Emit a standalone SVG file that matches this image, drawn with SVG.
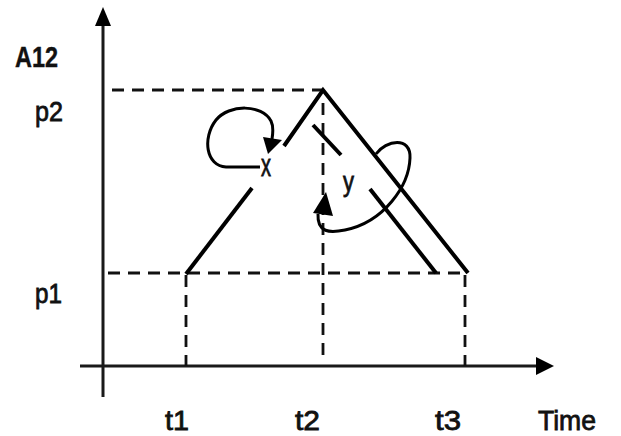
<svg xmlns="http://www.w3.org/2000/svg" width="621" height="436" viewBox="0 0 621 436">
<style>
.axis{stroke:#1a1a1a;stroke-width:3;fill:none}
.dash{stroke:#111;stroke-width:2.8;stroke-dasharray:12 8;fill:none}
.line{stroke:#000;stroke-width:4;fill:none;stroke-linecap:butt}
.loop{stroke:#000;stroke-width:3;fill:none}
.head{fill:#000}
text{font-family:"Liberation Sans",Arial,sans-serif;fill:#111}
.lbl{font-size:28px;stroke:#111;stroke-width:0.8}
.bold{font-weight:bold;stroke-width:0.4}
</style>
<rect width="621" height="436" fill="#fff"/>
<g id="axes">
<line class="axis" x1="103" y1="24" x2="103" y2="397"/>
<polygon class="head" points="103,7 95,26 111,26"/>
<line class="axis" x1="80" y1="366" x2="538" y2="366"/>
<polygon class="head" points="554,366 536,357 536,375"/>
</g>
<g id="guides">
<line class="dash" x1="112" y1="90" x2="322" y2="90"/>
<line class="dash" x1="108" y1="273" x2="468" y2="273"/>
<line class="dash" x1="186" y1="275" x2="186" y2="366"/>
<line class="dash" x1="323" y1="103" x2="323" y2="356"/>
<line class="dash" x1="465" y1="275" x2="465" y2="366"/>
</g>
<g id="connectors">
<line class="line" x1="186" y1="274" x2="252" y2="188"/>
<polyline class="line" points="284,146 323,90 468,273"/>
<line class="line" x1="313" y1="125" x2="341" y2="155"/>
<line class="line" x1="370" y1="189" x2="436" y2="273"/>
<path class="loop" d="M260,167 L226,167 C206,166 202,138 216,120 C229,104 262,104 271,121 C274,127 273,133 272,139"/>
<polygon class="head" points="263,137 282,140 268,154"/>
<path class="loop" d="M376,154 C386,140 411,136 410,158 C409,186 384,222 345,230 C330,233 317,233 318,214"/>
<polygon class="head" points="313,213 333,216 326,192"/>
</g>
<g id="labels">
<text class="lbl bold" x="15" y="67" textLength="43" lengthAdjust="spacingAndGlyphs" style="font-size:29px">A12</text>
<text class="lbl" x="35" y="121" textLength="28" lengthAdjust="spacingAndGlyphs">p2</text>
<text class="lbl" x="35" y="303" textLength="27" lengthAdjust="spacingAndGlyphs">p1</text>
<text class="lbl" x="165" y="430" textLength="24" lengthAdjust="spacingAndGlyphs">t1</text>
<text class="lbl" x="295" y="430" textLength="25" lengthAdjust="spacingAndGlyphs">t2</text>
<text class="lbl" x="435" y="430" textLength="26" lengthAdjust="spacingAndGlyphs">t3</text>
<text class="lbl" x="538" y="430" textLength="58" lengthAdjust="spacingAndGlyphs">Time</text>
<text class="lbl" x="261" y="176" textLength="10" lengthAdjust="spacingAndGlyphs" style="font-size:32px">x</text>
<text class="lbl" x="343" y="191" textLength="11" lengthAdjust="spacingAndGlyphs">y</text>
</g>
</svg>
